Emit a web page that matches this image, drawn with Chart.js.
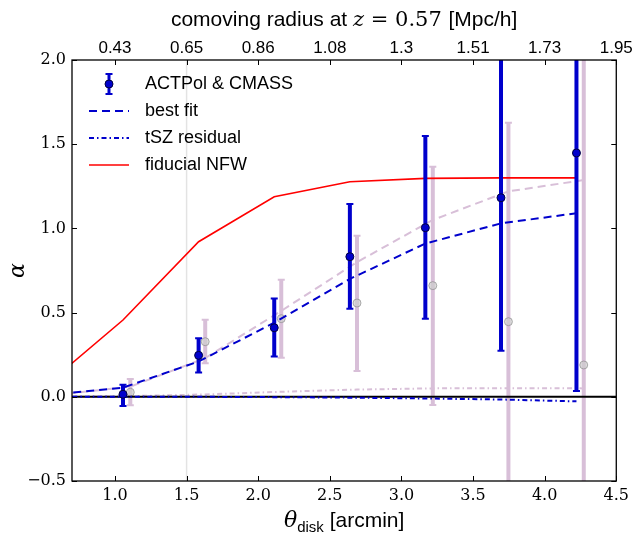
<!DOCTYPE html>
<html>
<head>
<meta charset="utf-8">
<script src="https://cdn.jsdelivr.net/npm/chart.js@4.4.1/dist/chart.umd.min.js"></script>
<style>
html, body { margin: 0; padding: 0; background: #fff; }
#wrap { width: 634px; height: 538px; }
</style>
</head>
<body>
<div id="wrap"><canvas id="alphaChart" width="634" height="538"></canvas></div>
<script>
// axis ticks
const xTicks = [1.0, 1.5, 2.0, 2.5, 3.0, 3.5, 4.0, 4.5];
const topTickLabels = ['0.43', '0.65', '0.86', '1.08', '1.3', '1.51', '1.73', '1.95'];
const yTicks = [-0.5, 0.0, 0.5, 1.0, 1.5, 2.0];

// ACTPol & CMASS measurement
const thetaObs = [1.056, 1.584, 2.112, 2.640, 3.167, 3.695, 4.222];
const alphaObs = [0.015, 0.246, 0.410, 0.832, 1.004, 1.182, 1.448];
const alphaLow = [-0.055, 0.145, 0.240, 0.523, 0.464, 0.274, 0.034];
const alphaHigh = [0.072, 0.347, 0.583, 1.145, 1.549, 2.090, 2.860];

// second (faded) measurement, shifted in theta
const thetaAlt = [1.107, 1.630, 2.161, 2.690, 3.219, 3.747, 4.273];
const alphaAlt = [0.027, 0.327, 0.464, 0.557, 0.660, 0.446, 0.189];
const alphaAltLow = [-0.050, 0.199, 0.232, 0.153, -0.049, -0.740, -2.200];
const alphaAltHigh = [0.106, 0.458, 0.695, 0.957, 1.366, 1.628, 2.600];

// model curves
const thetaModel = [0.528, 1.056, 1.584, 2.112, 2.640, 3.167, 3.695, 4.222];
const nfwFiducial = [0.075, 0.456, 0.921, 1.188, 1.277, 1.297, 1.300, 1.300];
const bestFit = [0.011, 0.054, 0.210, 0.440, 0.700, 0.910, 1.030, 1.090];
const tszResidual = [0.000, 0.000, 0.000, -0.002, -0.005, -0.010, -0.016, -0.027];

const thetaModelAlt = [0.579, 1.107, 1.630, 2.161, 2.690, 3.219, 3.747, 4.273];
const bestFitAlt = [0.010, 0.060, 0.230, 0.510, 0.800, 1.050, 1.220, 1.287];
const tszResidualAlt = [0.000, 0.004, 0.014, 0.030, 0.043, 0.050, 0.051, 0.050];

const refLineX = 1.5;

const blue = '#0000cc';
const pink = '#d8bfd8';
const serif = '"DejaVu Serif", serif';
const sans = '"Liberation Sans", Arial, sans-serif';

function pairs(xs, ys) {
    return xs.map(function(x, i) { return {x: x, y: ys[i]}; });
}

function errorSegments(xs, lo, hi) {
    let out = [];
    xs.forEach(function(x, i) {
        out.push({x: x, y: lo[i]}, {x: x, y: hi[i]}, {x: x, y: null});
    });
    return out;
}

function fmt(v) {
    return (v < 0 ? '\u2212' : '') + Math.abs(v).toFixed(1);
}

// text made of runs with different fonts, centred on cx
function drawRuns(ctx, runs, cx, y) {
    let total = 0;
    runs.forEach(function(r) { ctx.font = r.font; r.w = ctx.measureText(r.text).width; total += r.w; });
    let x = cx - total / 2;
    runs.forEach(function(r) {
        ctx.font = r.font;
        ctx.fillText(r.text, x, y + (r.dy || 0));
        x += r.w;
    });
}

const decorations = {
    id: 'decorations',
    afterDraw(chart) {
        const ctx = chart.ctx;
        const a = chart.chartArea;
        const sx = chart.scales.x;
        const sy = chart.scales.y;
        ctx.save();

        // inward ticks on all four sides
        ctx.strokeStyle = '#000';
        ctx.lineWidth = 1;
        ctx.beginPath();
        xTicks.forEach(function(v) {
            const px = Math.round(sx.getPixelForValue(v)) + 0.5;
            ctx.moveTo(px, a.bottom); ctx.lineTo(px, a.bottom - 5);
            ctx.moveTo(px, a.top); ctx.lineTo(px, a.top + 5);
        });
        yTicks.forEach(function(v) {
            const py = Math.round(sy.getPixelForValue(v)) + 0.5;
            ctx.moveTo(a.left, py); ctx.lineTo(a.left + 5, py);
            ctx.moveTo(a.right, py); ctx.lineTo(a.right - 5, py);
        });
        ctx.stroke();

        // frame
        ctx.lineWidth = 1.3;
        ctx.strokeRect(a.left, a.top, a.right - a.left, a.bottom - a.top);

        // legend
        const lx0 = a.left + 17, lx1 = a.left + 57, tx = a.left + 73;
        const rows = [a.top + 24, a.top + 51, a.top + 78, a.top + 105];
        ctx.lineCap = 'butt';
        // errorbar symbol
        const ex = (lx0 + lx1) / 2;
        ctx.strokeStyle = blue;
        ctx.lineWidth = 3;
        ctx.beginPath();
        ctx.moveTo(ex, rows[0] - 10); ctx.lineTo(ex, rows[0] + 10);
        ctx.stroke();
        ctx.lineWidth = 2;
        ctx.beginPath();
        ctx.moveTo(ex - 3.5, rows[0] - 10); ctx.lineTo(ex + 3.5, rows[0] - 10);
        ctx.moveTo(ex - 3.5, rows[0] + 10); ctx.lineTo(ex + 3.5, rows[0] + 10);
        ctx.stroke();
        ctx.fillStyle = blue;
        ctx.strokeStyle = '#000040';
        ctx.lineWidth = 1;
        ctx.beginPath();
        ctx.arc(ex, rows[0], 4, 0, Math.PI * 2);
        ctx.fill(); ctx.stroke();
        // line samples
        const samples = [
            {row: rows[1], color: blue, width: 2, dash: [8, 5]},
            {row: rows[2], color: blue, width: 2, dash: [5, 3, 1.5, 3]},
            {row: rows[3], color: '#ff0000', width: 1.6, dash: []}
        ];
        samples.forEach(function(s) {
            ctx.strokeStyle = s.color;
            ctx.lineWidth = s.width;
            ctx.setLineDash(s.dash);
            ctx.beginPath();
            ctx.moveTo(lx0, s.row); ctx.lineTo(lx1, s.row);
            ctx.stroke();
        });
        ctx.setLineDash([]);
        ctx.fillStyle = '#000';
        ctx.textBaseline = 'middle';
        ctx.font = '18px ' + sans;
        ['ACTPol & CMASS', 'best fit', 'tSZ residual', 'fiducial NFW'].forEach(function(t, i) {
            ctx.fillText(t, tx, rows[i]);
        });

        // axis titles
        const cx = (a.left + a.right) / 2;
        ctx.textBaseline = 'alphabetic';
        drawRuns(ctx, [
            {text: 'comoving radius at ', font: '21px ' + sans},
            {text: 'z', font: 'italic 21px ' + serif},
            {text: ' = 0.57 ', font: '21px ' + serif},
            {text: '[Mpc/h]', font: '21px ' + sans}
        ], cx, 26);
        drawRuns(ctx, [
            {text: '\u03b8', font: 'italic 22px ' + serif},
            {text: 'disk', font: '15px ' + sans, dy: 5},
            {text: ' [arcmin]', font: '21px ' + sans}
        ], cx, 527);

        ctx.translate(24, (a.top + a.bottom) / 2);
        ctx.rotate(-Math.PI / 2);
        ctx.textAlign = 'center';
        ctx.font = 'italic 22px ' + serif;
        ctx.fillText('\u03b1', 0, 0);
        ctx.restore();
    }
};

const lineSet = function(label, data, color, width, dash) {
    return {
        label: label, data: data, showLine: true,
        borderColor: color, borderWidth: width, borderDash: dash,
        pointRadius: 0, fill: false
    };
};

const ctx = document.getElementById('alphaChart').getContext('2d');

const alphaChart = new Chart(ctx, {
    type: 'scatter',
    data: {
        datasets: [
            {
                label: 'ACTPol & CMASS', data: pairs(thetaObs, alphaObs),
                pointRadius: 4, pointBackgroundColor: blue,
                pointBorderColor: '#000040', pointBorderWidth: 1
            },
            {
                label: 'obs errors', data: errorSegments(thetaObs, alphaLow, alphaHigh),
                showLine: true, spanGaps: false, borderColor: blue, borderWidth: 4,
                pointStyle: 'line', pointRadius: 3.5, pointBorderWidth: 2,
                pointBorderColor: blue
            },
            lineSet('fiducial NFW', pairs(thetaModel, nfwFiducial), '#ff0000', 1.6, []),
            lineSet('best fit', pairs(thetaModel, bestFit), blue, 2, [8, 5]),
            lineSet('tSZ residual', pairs(thetaModel, tszResidual), blue, 2, [5, 3, 1.5, 3]),
            lineSet('zero', [{x: 0.7, y: 0}, {x: 4.5, y: 0}], '#000', 2, []),
            {
                label: 'alt', data: pairs(thetaAlt, alphaAlt),
                pointRadius: 4, pointBackgroundColor: 'rgba(205,205,205,0.7)',
                pointBorderColor: 'rgba(130,130,130,0.6)', pointBorderWidth: 1
            },
            {
                label: 'alt errors', data: errorSegments(thetaAlt, alphaAltLow, alphaAltHigh),
                showLine: true, spanGaps: false, borderColor: pink, borderWidth: 4,
                pointStyle: 'line', pointRadius: 3.5, pointBorderWidth: 2,
                pointBorderColor: pink
            },
            lineSet('alt fit', pairs(thetaModelAlt, bestFitAlt), pink, 2, [8, 5]),
            lineSet('alt residual', pairs(thetaModelAlt, tszResidualAlt), pink, 2, [5, 3, 1.5, 3]),
            lineSet('ref', [{x: refLineX, y: -0.5}, {x: refLineX, y: 2.0}], '#e3e3e3', 1.5, [])
        ]
    },
    options: {
        responsive: false,
        animation: false,
        events: [],
        layout: { padding: { right: 17, left: 0, top: 0, bottom: 0 } },
        plugins: {
            legend: { display: false },
            tooltip: { enabled: false }
        },
        scales: {
            x: {
                type: 'linear', position: 'bottom', min: 0.7, max: 4.5,
                afterBuildTicks: function(s) { s.ticks = xTicks.map(function(v) { return {value: v}; }); },
                afterFit: function(s) { s.height = 57; },
                grid: { display: false, drawTicks: false },
                border: { display: false },
                ticks: {
                    autoSkip: false, maxRotation: 0, padding: 5, color: '#000',
                    font: { family: serif, size: 16 },
                    callback: function(v) { return v.toFixed(1); }
                }
            },
            x2: {
                type: 'linear', position: 'top', min: 0.7, max: 4.5,
                afterBuildTicks: function(s) { s.ticks = xTicks.map(function(v) { return {value: v}; }); },
                afterFit: function(s) { s.height = 60; },
                grid: { display: false, drawTicks: false },
                border: { display: false },
                ticks: {
                    autoSkip: false, maxRotation: 0, padding: 1, color: '#000',
                    font: { family: sans, size: 17 },
                    callback: function(v, i) { return topTickLabels[i]; }
                }
            },
            y: {
                type: 'linear', position: 'left', min: -0.5, max: 2.0,
                afterBuildTicks: function(s) { s.ticks = yTicks.map(function(v) { return {value: v}; }); },
                afterFit: function(s) { s.width = 72; },
                grid: { display: false, drawTicks: false },
                border: { display: false },
                ticks: {
                    autoSkip: false, padding: 6, color: '#000',
                    font: { family: serif, size: 16 },
                    callback: fmt
                }
            }
        }
    },
    plugins: [decorations]
});
</script>
</body>
</html>
